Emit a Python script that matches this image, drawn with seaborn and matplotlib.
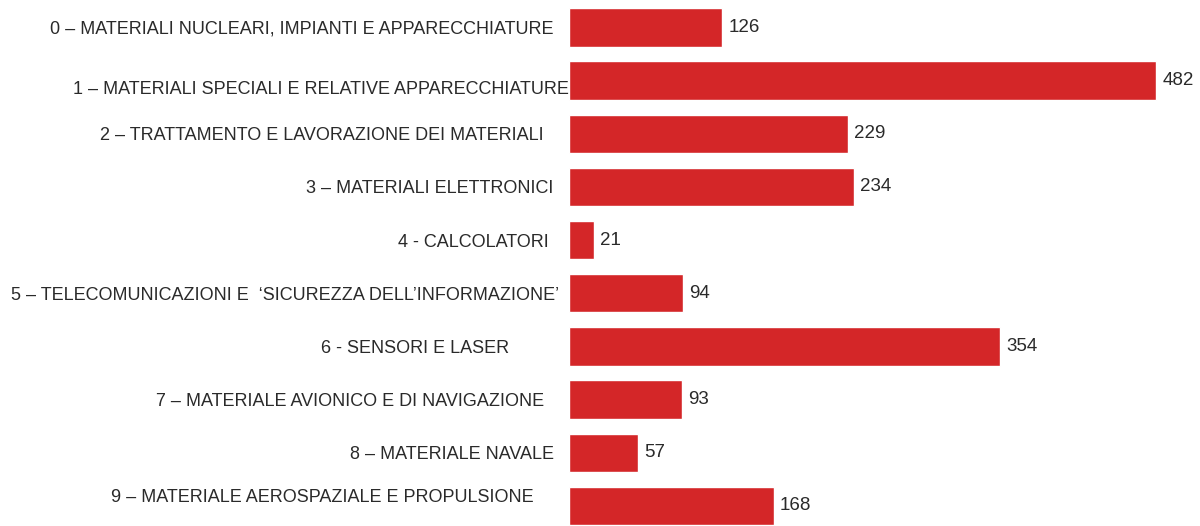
import seaborn as sns
import pandas as pd
import matplotlib.pyplot as plt
from matplotlib.transforms import ScaledTranslation

categories = [
    "0 \u2013 MATERIALI NUCLEARI, IMPIANTI E APPARECCHIATURE   ",
    "1 \u2013 MATERIALI SPECIALI E RELATIVE APPARECCHIATURE",
    "2 \u2013 TRATTAMENTO E LAVORAZIONE DEI MATERIALI     ",
    "3 \u2013 MATERIALI ELETTRONICI   ",
    "4 - CALCOLATORI    ",
    "5 \u2013 TELECOMUNICAZIONI E  \u2018SICUREZZA DELL\u2019INFORMAZIONE\u2019  ",
    "6 - SENSORI E LASER            ",
    "7 \u2013 MATERIALE AVIONICO E DI NAVIGAZIONE     ",
    "8 \u2013 MATERIALE NAVALE   ",
    "9 \u2013 MATERIALE AEROSPAZIALE E PROPULSIONE       ",
]
values = [126, 482, 229, 234, 21, 94, 354, 93, 57, 168]

df = pd.DataFrame({"categoria": categories, "n": values})

sns.set_style("white")
plt.rcParams['font.family'] = ['Liberation Sans', 'DejaVu Sans']

fig = plt.figure(figsize=(12, 5.26), dpi=100)
ax = fig.add_axes([0.474, -0.0125, 0.526, 1.011])

sns.barplot(data=df, x="n", y="categoria", color="#d42628", width=0.72,
            saturation=1, ax=ax)

for i, v in enumerate(values):
    ax.text(v + 5, i, str(v), va="center", ha="left", fontsize=13.5, color="#2a2a2a")

ax.set_xlim(0, 518)
ax.set_xlabel("")
ax.set_ylabel("")
ax.set_xticks([])
ax.tick_params(axis="y", length=0, pad=0, labelsize=13, labelcolor="#2a2a2a")
sns.despine(ax=ax, left=True, bottom=True)

# small vertical offsets of some labels (pixels), as in the original slide
labels = ax.get_yticklabels()
for idx, dy in [(1, -7), (9, 10)]:
    lab = labels[idx]
    lab.set_transform(lab.get_transform() + ScaledTranslation(0, dy / fig.dpi, fig.dpi_scale_trans))

fig.savefig("out.png", dpi=100)
